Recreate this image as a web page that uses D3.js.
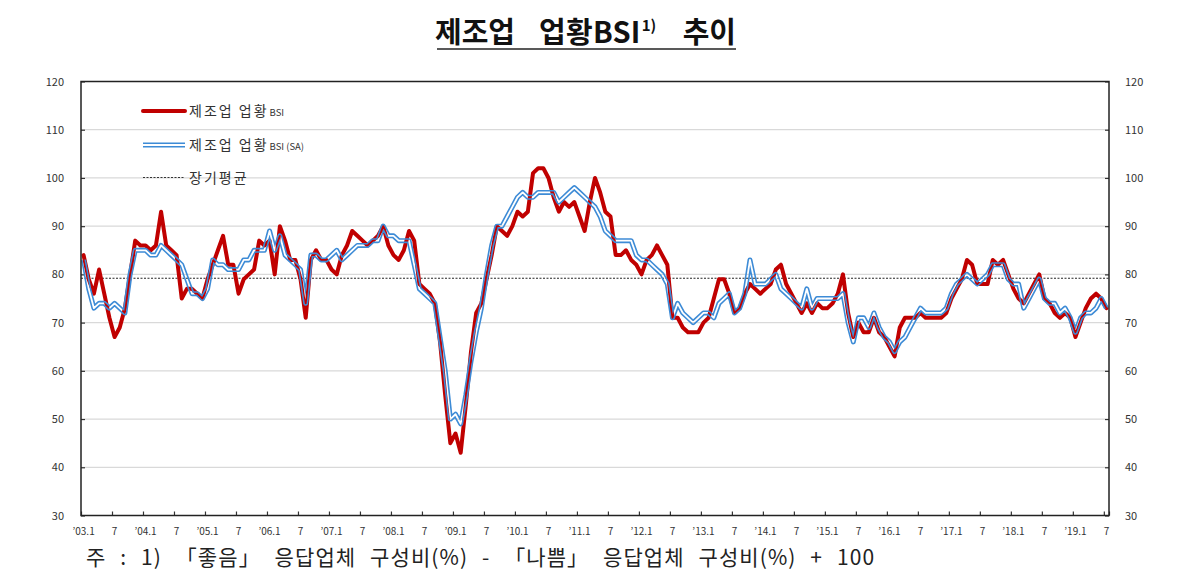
<!DOCTYPE html>
<html><head><meta charset="utf-8">
<script src="https://cdn.jsdelivr.net/npm/d3@7"></script>
<style>
body{margin:0;background:#fff;}
svg{display:block;}
</style></head><body>
<svg id="c" width="1191" height="586"></svg>
<script>
// ---------- data ----------
const firstYear = 2003;
const monthCount = 199; // 2003.1 ~ 2019.7
const months = [];
for (let k = 0; k < monthCount; k++) {
  const yy = firstYear + Math.floor(k / 12), mm = k % 12 + 1;
  months.push(yy + "." + (mm < 10 ? "0" : "") + mm);
}
const bsi = [
  84, 79, 76, 81, 76, 71, 67, 69, 73, 80, 87, 86,
  86, 85, 86, 93, 86, 85, 84, 75, 77, 77, 76, 75,
  79, 82, 85, 88, 82, 82, 76, 79, 80, 81, 87, 86,
  87, 80, 90, 87, 83, 83, 79, 71, 83, 85, 83, 83,
  81, 80, 84, 86, 89, 88, 87, 86, 87, 88, 90, 86,
  84, 83, 85, 89, 87, 78, 77, 76, 74, 66, 55, 45,
  47, 43, 53, 64, 72, 74, 79, 84, 90, 89, 88, 90,
  93, 92, 93, 101, 102, 102, 100, 96, 93, 95, 94, 95,
  92, 89, 95, 100, 97, 93, 92, 84, 84, 85, 83, 82,
  80, 83, 84, 86, 84, 82, 71, 71, 69, 68, 68, 68,
  70, 71, 75, 79, 79, 76, 72, 73, 76, 78, 77, 76,
  77, 78, 81, 82, 78, 76, 74, 72, 74, 72, 74, 73,
  73, 74, 76, 80, 72, 67, 70, 68, 68, 71, 68, 67,
  65, 63, 69, 71, 71, 71, 72, 71, 71, 71, 71, 72,
  75, 77, 79, 83, 82, 78, 78, 78, 83, 82, 83, 80,
  77, 75, 74, 76, 78, 80, 75, 74, 72, 71, 72, 71,
  67, 70, 73, 75, 76, 75, 73
];
const bsiSA = [
  83, 77, 73, 74, 74, 73, 74, 73, 72, 80, 85, 85,
  85, 84, 84, 86, 85, 84, 83, 82, 79, 76, 76, 75,
  77, 83, 82, 82, 81, 81, 81, 83, 83, 85, 85, 85,
  89, 85, 88, 84, 83, 82, 81, 74, 84, 84, 83, 83,
  84, 85, 83, 84, 85, 86, 86, 86, 87, 87, 90, 88,
  88, 87, 87, 87, 82, 77, 76, 75, 74, 67, 60, 50,
  51, 49, 55, 62, 68, 73, 80, 86, 90, 90, 92, 94,
  96, 97, 96, 96, 97, 97, 97, 97, 95, 96, 97, 98,
  97, 96, 95, 94, 92, 89, 88, 87, 87, 87, 87, 84,
  83, 83, 82, 81, 80, 78, 71, 74, 72, 71, 70, 71,
  72, 72, 71, 74, 75, 76, 72, 73, 76, 83, 78, 78,
  78, 79, 80, 77, 76, 75, 74, 73, 77, 73, 75, 75,
  75, 75, 75, 76, 70, 66, 71, 71, 69, 72, 69, 67,
  66, 64, 66, 67, 69, 71, 73, 72, 72, 72, 72, 73,
  76, 78, 79, 80, 79, 78, 79, 80, 82, 82, 82, 79,
  78, 78, 73, 75, 77, 79, 75, 74, 74, 72, 73, 71,
  68, 71, 72, 72, 73, 75, 73
];
const longTermAverage = 79.2;
const yTicks = [30, 40, 50, 60, 70, 80, 90, 100, 110, 120];
const gridValues = [40, 50, 60, 70, 80, 90, 100, 110];
const xTickMonths = months.filter((m, k) => k % 6 === 0);
const xTickLabel = m => m.endsWith(".01") ? "\u2019" + m.slice(2, 4) + ".1" : "7";
const legendNames = ["제조업 업황", "제조업 업황", "장기평균"];
const legendSubs = ["BSI", "BSI (SA)", ""];
const titleParts = ["제조업", "업황BSI", "1)", "추이"];
const footnote = "주 : 1) 「좋음」 응답업체 구성비(%) - 「나쁨」 응답업체 구성비(%) + 100";

// ---------- layout ----------
const L = 81, R = 1109, T = 81.5, B = 515.5;
const font = "'Noto Sans CJK KR', 'Noto Sans', sans-serif";
const svg = d3.select("#c");
const xb = d3.scaleBand().domain(months).range([L, R]).padding(0);
const xc = m => xb(m) + xb.bandwidth() / 2;
const y = d3.scaleLinear().domain([30, 120]).range([B, T]);

// title
const tStyle = s => s.attr("font-family", font).attr("font-weight", "bold").attr("fill", "#111").attr("font-size", 29);
tStyle(svg.append("text")).attr("x", 435).attr("y", 43).text(titleParts[0]);
const t2 = tStyle(svg.append("text")).attr("x", 539).attr("y", 43);
t2.append("tspan").attr("letter-spacing", 0.3).text(titleParts[1]);
t2.append("tspan").attr("dy", -12).attr("dx", 1).attr("font-size", 15).text(titleParts[2]);
tStyle(svg.append("text")).attr("x", 736).attr("y", 43).attr("text-anchor", "end").text(titleParts[3]);
svg.append("line").attr("x1", 437).attr("x2", 736).attr("y1", 49).attr("y2", 49)
  .attr("stroke", "#222").attr("stroke-width", 1.6);

// grid
svg.append("g").selectAll("line").data(gridValues).join("line")
  .attr("x1", L).attr("x2", R).attr("y1", d => y(d)).attr("y2", d => y(d))
  .attr("stroke", "#d9d9d9").attr("stroke-width", 1.3);

// axes
const axL = svg.append("g").attr("transform", `translate(${L},0)`)
  .call(d3.axisRight(y).tickValues(yTicks).tickSize(4).tickFormat(""));
const axR = svg.append("g").attr("transform", `translate(${R},0)`)
  .call(d3.axisLeft(y).tickValues(yTicks).tickSize(4).tickFormat(""));
const xTickScale = d3.scaleLinear().domain([0, monthCount]).range([L, R]);
const axB = svg.append("g").attr("transform", `translate(0,${B})`)
  .call(d3.axisTop(xTickScale).tickValues(xTickMonths.map(m => months.indexOf(m)).concat([monthCount])).tickSize(4).tickFormat(""));
[axL, axR, axB].forEach(g => { g.select(".domain").remove(); g.selectAll("line").attr("stroke", "#333").attr("stroke-width", 1.2); });

// tick labels
svg.append("g").selectAll("text").data(yTicks).join("text")
  .attr("x", 64).attr("y", d => y(d) + 4).attr("text-anchor", "end")
  .attr("font-family", font).attr("font-size", 11).attr("fill", "#333").text(d => d);
svg.append("g").selectAll("text").data(yTicks).join("text")
  .attr("x", 1125).attr("y", d => y(d) + 4).attr("text-anchor", "start")
  .attr("font-family", font).attr("font-size", 11).attr("fill", "#333").text(d => d);
svg.append("g").selectAll("text").data(xTickMonths).join("text")
  .attr("x", d => xc(d)).attr("y", 535).attr("text-anchor", "middle")
  .attr("font-family", font).attr("font-size", 10).attr("fill", "#333").text(xTickLabel);

// average line
svg.append("line").attr("x1", L).attr("x2", R).attr("y1", y(longTermAverage)).attr("y2", y(longTermAverage))
  .attr("stroke", "#222").attr("stroke-width", 1).attr("stroke-dasharray", "2,1.5");

// series
const line = d3.line().x((d, k) => xc(months[k])).y(d => y(d));
svg.append("path").datum(bsi).attr("d", line).attr("fill", "none")
  .attr("stroke", "#c00000").attr("stroke-width", 4).attr("stroke-linejoin", "round").attr("stroke-linecap", "round");

const defs = svg.append("defs");
function doubleLine(id, d, width, gap) {
  const m = defs.append("mask").attr("id", id).attr("maskUnits", "userSpaceOnUse")
    .attr("x", 0).attr("y", 0).attr("width", 1191).attr("height", 586);
  m.append("rect").attr("width", 1191).attr("height", 586).attr("fill", "#fff");
  m.append("path").attr("d", d).attr("fill", "none").attr("stroke", "#000")
    .attr("stroke-width", gap).attr("stroke-linejoin", "round");
  svg.append("path").attr("d", d).attr("fill", "none").attr("stroke", "#3d8bd6")
    .attr("stroke-width", width).attr("stroke-linejoin", "round").attr("mask", `url(#${id})`);
}
doubleLine("saMask", line(bsiSA), 5, 1.8);

// frame
svg.append("rect").attr("x", L).attr("y", T).attr("width", R - L).attr("height", B - T)
  .attr("fill", "none").attr("stroke", "#222").attr("stroke-width", 1.5);

// legend
const lg = svg.append("g");
const rowsY = [111, 145, 177.5];
lg.append("line").attr("x1", 143).attr("x2", 185).attr("y1", rowsY[0]).attr("y2", rowsY[0])
  .attr("stroke", "#c00000").attr("stroke-width", 4).attr("stroke-linecap", "round");
doubleLine("lgMask", `M143,${rowsY[1]}L185,${rowsY[1]}`, 5, 1.8);
lg.append("line").attr("x1", 143).attr("x2", 185).attr("y1", rowsY[2]).attr("y2", rowsY[2])
  .attr("stroke", "#333").attr("stroke-width", 1).attr("stroke-dasharray", "2,1.5");
legendNames.forEach((n, k) => {
  const t = lg.append("text").attr("x", 189).attr("y", rowsY[k] + 5)
    .attr("font-family", font).attr("font-size", 14).attr("fill", "#333");
  t.append("tspan").attr("letter-spacing", 2).text(n);
  if (legendSubs[k]) t.append("tspan").attr("font-size", 9.5).attr("dx", 1).text(legendSubs[k]);
});

// footnote
svg.append("text").attr("x", 86).attr("y", 565).attr("font-family", font).attr("font-size", 21)
  .attr("fill", "#222").attr("word-spacing", 8).attr("letter-spacing", 1.1).text(footnote);
</script>
</body></html>
